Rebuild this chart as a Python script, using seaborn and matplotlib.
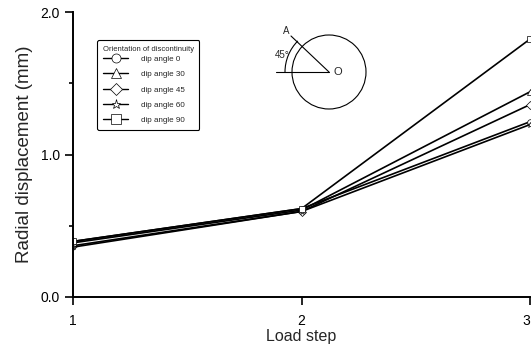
import matplotlib
matplotlib.use("Agg")
import matplotlib.pyplot as plt
import seaborn as sns
import pandas as pd
from matplotlib.patches import Circle, Arc

load_steps = [1, 2, 3]
dip_0 = [0.39, 0.62, 1.23]
dip_30 = [0.38, 0.61, 1.44]
dip_45 = [0.36, 0.60, 1.35]
dip_60 = [0.35, 0.60, 1.21]
dip_90 = [0.39, 0.62, 1.81]
series_names = ["dip angle 0", "dip angle 30", "dip angle 45", "dip angle 60", "dip angle 90"]
series_vals = [dip_0, dip_30, dip_45, dip_60, dip_90]
marker_list = ["o", "^", "D", "*", "s"]

rows = []
for name, vals in zip(series_names, series_vals):
    for s, v in zip(load_steps, vals):
        rows.append({"Load step": s, "disp": v, "series": name})
df = pd.DataFrame(rows)

sns.set_style("ticks")
plt.rcParams["font.family"] = ["Liberation Sans", "DejaVu Sans"]

fig = plt.figure(figsize=(5.32, 3.49), dpi=100)
ax = fig.add_axes([73/532, 1 - 297/349, 457/532, 285/349])

sns.lineplot(data=df, x="Load step", y="disp", hue="series", style="series",
             markers=dict(zip(series_names, marker_list)), dashes=False,
             palette=["black"] * 5, linewidth=1.2, markersize=4,
             markerfacecolor="white", markeredgecolor="black", markeredgewidth=0.5,
             ax=ax, legend=True)

ax.set_xlim(1, 3)
ax.set_ylim(0, 2.0)
ax.set_xticks([1, 2, 3])
ax.set_xticklabels(["1", "2", "3"])
ax.get_xticklabels()[-1].set_horizontalalignment("right")
ax.set_yticks([0.0, 1.0, 2.0])
ax.set_yticklabels(["0.0", "1.0", "2.0"])
ax.set_yticks([0.5, 1.5], minor=True)
ax.tick_params(axis="both", which="major", direction="out", length=6, width=1.2,
               labelsize=10, color="black", labelcolor="black")
ax.tick_params(axis="y", which="minor", direction="out", length=3, width=1.2, color="black")
ax.tick_params(axis="x", pad=6)
for side in ["top", "right"]:
    ax.spines[side].set_visible(False)
for side in ["left", "bottom"]:
    ax.spines[side].set_linewidth(1.4)
    ax.spines[side].set_color("black")
ax.set_xlabel("Load step", fontsize=11.5, labelpad=1)
ax.set_ylabel("Radial displacement (mm)", fontsize=13.5, labelpad=5)

leg = ax.legend(title="Orientation of discontinuity", loc="upper left",
                bbox_to_anchor=(0.0525, 0.902), borderaxespad=0,
                fontsize=5.8, title_fontsize=5.5,
                frameon=True, fancybox=True, edgecolor="black", handlelength=3.2,
                labelspacing=0.95, borderpad=0.7, handletextpad=1.6)
leg.get_frame().set_linewidth(0.8)
leg.get_frame().set_alpha(1)
leg._legend_box.align = "left"
leg._legend_box.sep = 2
for h in leg.legend_handles:
    h.set_markersize(6.5)
    h.set_linewidth(1.0)

# inset diagram (figure pixel coords)
iax = fig.add_axes([265/532, 1 - 118/349, 110/532, 95/349])
iax.set_xlim(265, 375)
iax.set_ylim(118, 23)
iax.axis("off")
cx, cy, r = 329, 72, 37
iax.add_patch(Circle((cx, cy), r, fill=False, edgecolor="black", linewidth=0.8))
iax.plot([276, cx], [cy, cy], color="black", linewidth=0.8)
iax.plot([291, cx], [36, cy], color="black", linewidth=0.8)
iax.add_patch(Arc((cx, cy), 88, 88, theta1=180, theta2=225, edgecolor="black", linewidth=0.8))
iax.text(286, 31, "A", fontsize=7, ha="center", va="center")
iax.text(282, 55, "45°", fontsize=7, ha="center", va="center")
iax.text(338, 72, "O", fontsize=8, ha="center", va="center")

fig.savefig("out.png", dpi=100)
